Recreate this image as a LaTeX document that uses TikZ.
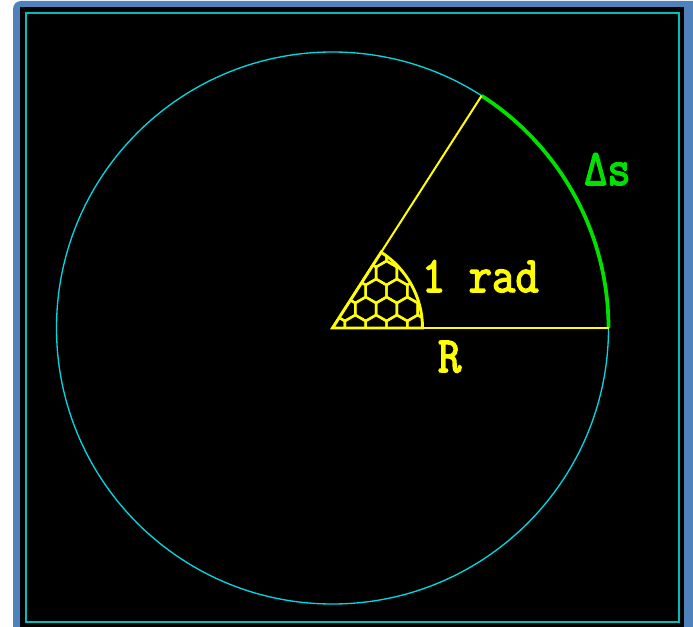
\documentclass[tikz,border=0pt]{standalone}
\usepackage{fontspec}
\usepackage{graphicx}
\usetikzlibrary{calc}
\newfontfamily\dickmono{Latin Modern Mono}[FakeBold=3]
\definecolor{rahmen}{RGB}{79,129,189}
\definecolor{innen}{RGB}{0,190,190}
\definecolor{kreis}{RGB}{0,215,225}
\definecolor{gelb}{RGB}{255,255,0}
\definecolor{bogen}{RGB}{0,225,0}
\tikzset{schrift/.style={font=\dickmono\fontsize{34}{34}\selectfont, inner sep=0pt}}
\newcommand{\hoch}[1]{\scalebox{1}[1.12]{#1}}

\begin{document}
\begin{tikzpicture}[x=0.75pt, y=0.75pt, gelb, line width=1.5pt]

	\useasboundingbox (0,0) rectangle (693,626);
	\clip (0,0) rectangle (693,626);

	\fill[white] (0,0) rectangle (693,626);
	\fill[rahmen, rounded corners=6] (13,-30) rectangle (710,625);
	\fill[black] (20,-30) rectangle (684,619);
	\draw[innen, line width=1.3pt] (26,4) rectangle (679,613);

	\coordinate (M) at (332.5,298);
	\coordinate (A) at ($(M)+(276,0)$);
	\coordinate (B) at ($(M)+(57.2958:276)$);

	\draw[kreis, line width=1pt] (M) circle (276);
	\draw[bogen, line width=2.8pt] (A) arc (0:57.2958:276);

	% Waben im Sektor
	\begin{scope}
		\clip (M) -- ++(90,0) arc (0:57.2958:90) -- cycle;
		\foreach \j in {0,...,6}{
			\foreach \i in {-1,...,5}{
				\pgfmathsetmacro{\hx}{332.5 + 2 + \i*20.8 + mod(\j,2)*10.4}
				\pgfmathsetmacro{\hy}{298 + 1 + \j*18}
				\draw[line width=1.8pt] (\hx,\hy) +(30:12) -- +(90:12) -- +(150:12) -- +(210:12) -- +(270:12) -- +(330:12) -- cycle;
			}
		}
	\end{scope}
	\draw[line width=2.2pt] (M) -- ++(90,0) arc (0:57.2958:90) -- cycle;

	\draw (M) -- (A);
	\draw (M) -- (B);

	\node[schrift, anchor=base west] (rad) at (421,334) {\hoch{1 rad}};
	\node[schrift, anchor=base west] (R) at (437,254) {\hoch{R}};
	\node[schrift, bogen, anchor=base west] (ds) at (583,441) {\hoch{Δs}};
\end{tikzpicture}
\end{document}
